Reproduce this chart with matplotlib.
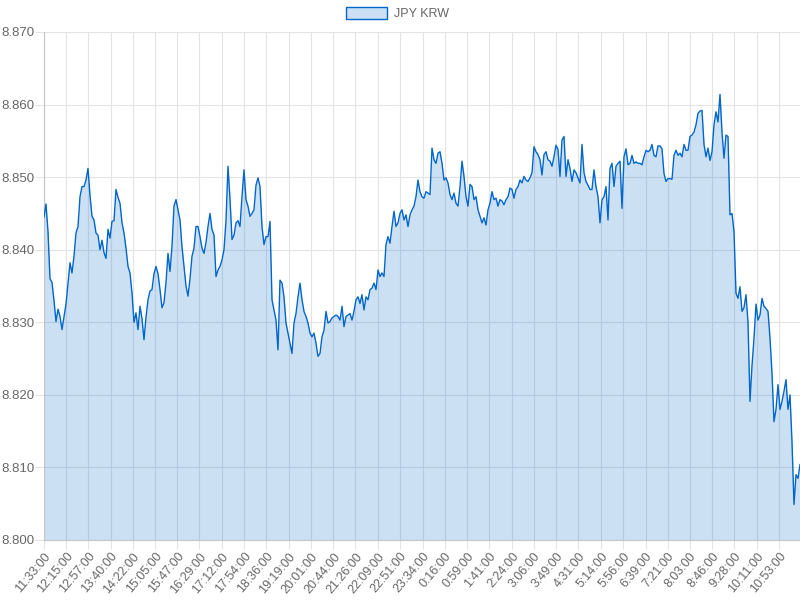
import numpy as np
import matplotlib
matplotlib.use("Agg")
import matplotlib.pyplot as plt
from matplotlib.patches import Patch

plt.rcParams["font.family"] = ["Liberation Sans", "DejaVu Sans"]

SERIES_NAME = "JPY KRW"
START_LABEL = "11:33:00"
SPAN_MINUTES = 1440

# rate samples at even steps (~3.8 min), split by stretch of the day
rate_midday = [
    8.8445, 8.8463, 8.8425, 8.8360, 8.8355, 8.8330, 8.8301, 8.8318, 8.8308, 8.8290,
    8.8308, 8.8325, 8.8354, 8.8382, 8.8368, 8.8391, 8.8423, 8.8432, 8.8473, 8.8487,
    8.8487, 8.8496, 8.8512, 8.8475, 8.8446, 8.8441, 8.8423, 8.8420, 8.8400, 8.8413,
    8.8396, 8.8388, 8.8428, 8.8416, 8.8439, 8.8440, 8.8483, 8.8472, 8.8464, 8.8437,
    8.8423, 8.8402, 8.8377, 8.8368, 8.8340, 8.8300, 8.8313, 8.8290, 8.8322, 8.8305,
    8.8276, 8.8307, 8.8331, 8.8343, 8.8345, 8.8367, 8.8377, 8.8367, 8.8345, 8.8320,
    8.8327, 8.8355, 8.8395, 8.8370, 8.8405, 8.8460, 8.8469, 8.8455, 8.8441, 8.8404,
    8.8377, 8.8350, 8.8336, 8.8360, 8.8391, 8.8402, 8.8432, 8.8432, 8.8418, 8.8402,
    8.8395, 8.8410, 8.8432, 8.8450, 8.8428, 8.8420, 8.8363, 8.8372, 8.8377, 8.8386,
    8.8400, 8.8440, 8.8515, 8.8470, 8.8414, 8.8420, 8.8437, 8.8440, 8.8432,
]
rate_evening = [
    8.8473, 8.8510, 8.8469, 8.8460, 8.8446, 8.8450, 8.8455, 8.8489, 8.8499, 8.8487,
    8.8432, 8.8407, 8.8418, 8.8418, 8.8439, 8.8331, 8.8317, 8.8303, 8.8262, 8.8358,
    8.8354, 8.8335, 8.8299, 8.8285, 8.8271, 8.8257, 8.8299, 8.8312, 8.8335, 8.8354,
    8.8331, 8.8315, 8.8308, 8.8299, 8.8285, 8.8280, 8.8285, 8.8271, 8.8253, 8.8257,
    8.8280, 8.8289, 8.8315, 8.8299, 8.8301, 8.8306, 8.8308, 8.8310, 8.8308, 8.8303,
    8.8322, 8.8294, 8.8308, 8.8310, 8.8312, 8.8303, 8.8315, 8.8331, 8.8335, 8.8326,
    8.8338, 8.8317, 8.8335, 8.8331, 8.8345, 8.8347, 8.8354, 8.8345, 8.8372, 8.8363,
    8.8368, 8.8363, 8.8407, 8.8418, 8.8409, 8.8432, 8.8453, 8.8432, 8.8437, 8.8450,
    8.8455, 8.8441, 8.8448, 8.8432, 8.8448, 8.8455, 8.8460, 8.8473, 8.8496, 8.8480,
    8.8473, 8.8471, 8.8480, 8.8478, 8.8476,
]
rate_night = [
    8.8540, 8.8524, 8.8519, 8.8533, 8.8535, 8.8519, 8.8496, 8.8499, 8.8492, 8.8476,
    8.8469, 8.8478, 8.8464, 8.8460, 8.8487, 8.8522, 8.8501, 8.8473, 8.8460, 8.8490,
    8.8487, 8.8469, 8.8473, 8.8455, 8.8446, 8.8437, 8.8444, 8.8434, 8.8455, 8.8464,
    8.8480, 8.8469, 8.8471, 8.8460, 8.8469, 8.8467, 8.8462, 8.8469, 8.8473, 8.8485,
    8.8483, 8.8471, 8.8483, 8.8487, 8.8496, 8.8492, 8.8501, 8.8496, 8.8494, 8.8499,
    8.8506, 8.8542, 8.8535, 8.8531, 8.8524, 8.8503, 8.8531, 8.8535, 8.8524, 8.8522,
    8.8515, 8.8528, 8.8544, 8.8538, 8.8501, 8.8551, 8.8556, 8.8501, 8.8524, 8.8512,
    8.8494, 8.8510, 8.8506, 8.8499, 8.8492, 8.8545, 8.8506, 8.8494, 8.8489, 8.8483,
    8.8483, 8.8510, 8.8487, 8.8473, 8.8437, 8.8469, 8.8473, 8.8487, 8.8441, 8.8512,
    8.8519, 8.8487, 8.8515, 8.8519, 8.8522,
]
rate_morning = [
    8.8457, 8.8528, 8.8539, 8.8517, 8.8519, 8.8530, 8.8519, 8.8521, 8.8519, 8.8519,
    8.8517, 8.8528, 8.8537, 8.8535, 8.8537, 8.8545, 8.8530, 8.8528, 8.8543, 8.8543,
    8.8539, 8.8505, 8.8494, 8.8498, 8.8498, 8.8497, 8.8530, 8.8537, 8.8530, 8.8533,
    8.8528, 8.8545, 8.8537, 8.8537, 8.8556, 8.8558, 8.8562, 8.8572, 8.8588, 8.8591,
    8.8592, 8.8545, 8.8528, 8.8540, 8.8523, 8.8535, 8.8572, 8.8590, 8.8576, 8.8614,
    8.8562, 8.8526, 8.8558, 8.8556, 8.8448, 8.8450, 8.8425, 8.8340, 8.8333, 8.8349,
    8.8315, 8.8320, 8.8338, 8.8300, 8.8191, 8.8240, 8.8278, 8.8325, 8.8303, 8.8310,
    8.8333, 8.8322, 8.8319, 8.8315, 8.8278, 8.8230, 8.8163, 8.8180, 8.8214, 8.8180,
    8.8191, 8.8205, 8.8221, 8.8180, 8.8200, 8.8135, 8.8049, 8.8090, 8.8085, 8.8104,
]

tick_labels = [
    "11:33:00", "12:15:00", "12:57:00", "13:40:00", "14:22:00", "15:05:00",
    "15:47:00", "16:29:00", "17:12:00", "17:54:00", "18:36:00", "19:19:00",
    "20:01:00", "20:44:00", "21:26:00", "22:09:00", "22:51:00", "23:34:00",
    "0:16:00", "0:59:00", "1:41:00", "2:24:00", "3:06:00", "3:49:00",
    "4:31:00", "5:14:00", "5:56:00", "6:39:00", "7:21:00", "8:03:00",
    "8:46:00", "9:28:00", "10:11:00", "10:53:00",
]
y_ticks = [8.800, 8.810, 8.820, 8.830, 8.840, 8.850, 8.860, 8.870]

LINE = "#0066cc"
TEXT = "#666666"
GRID = "#e3e3e3"


def minutes_after_start(label):
    h, m, _ = (int(p) for p in label.split(":"))
    h0, m0, _ = (int(p) for p in START_LABEL.split(":"))
    return ((h * 60 + m) - (h0 * 60 + m0)) % (24 * 60)


rate = np.array(rate_midday + rate_evening + rate_night + rate_morning)
t = np.arange(len(rate)) * SPAN_MINUTES / (len(rate) - 1)
tick_pos = [minutes_after_start(s) for s in tick_labels]

fig = plt.figure(figsize=(8, 6), dpi=100)
ax = fig.add_axes([0.055, 0.1, 0.945, 0.8467])
ax.set_axisbelow(True)

ax.fill_between(t, rate, y_ticks[0], color=LINE, alpha=0.2, lw=0, zorder=2)
ax.plot(t, rate, color=LINE, lw=1.0, zorder=3)

ax.set_xlim(0, SPAN_MINUTES)
ax.set_ylim(y_ticks[0], y_ticks[-1])
ax.set_xticks(tick_pos)
ax.set_xticklabels(tick_labels, rotation=50, ha="right", va="top", rotation_mode="anchor")
ax.set_yticks(y_ticks)
ax.set_yticklabels([f"{v:.3f}" for v in y_ticks])
ax.grid(True, color=GRID, lw=0.8)
# lengths in points: ~9 px tick stubs like the source chart
ax.tick_params(axis="both", length=6.5, color=GRID, width=0.8, labelcolor=TEXT, labelsize=9)
ax.tick_params(axis="x", pad=1)
ax.tick_params(axis="y", pad=0.5, labelsize=9.5)
for side in ("top", "right"):
    ax.spines[side].set_visible(False)
for side in ("left", "bottom"):
    ax.spines[side].set_color("#c4c4c4")
    ax.spines[side].set_linewidth(0.8)

handle = Patch(facecolor="#cce0f5", edgecolor=LINE, lw=1.0, label=SERIES_NAME)
fig.legend(handles=[handle], loc="center", bbox_to_anchor=(0.497, 0.977), frameon=False,
           handlelength=3.3, handleheight=1.0, handletextpad=0.6, fontsize=9,
           labelcolor=TEXT)

fig.savefig("out.png", dpi=100)
